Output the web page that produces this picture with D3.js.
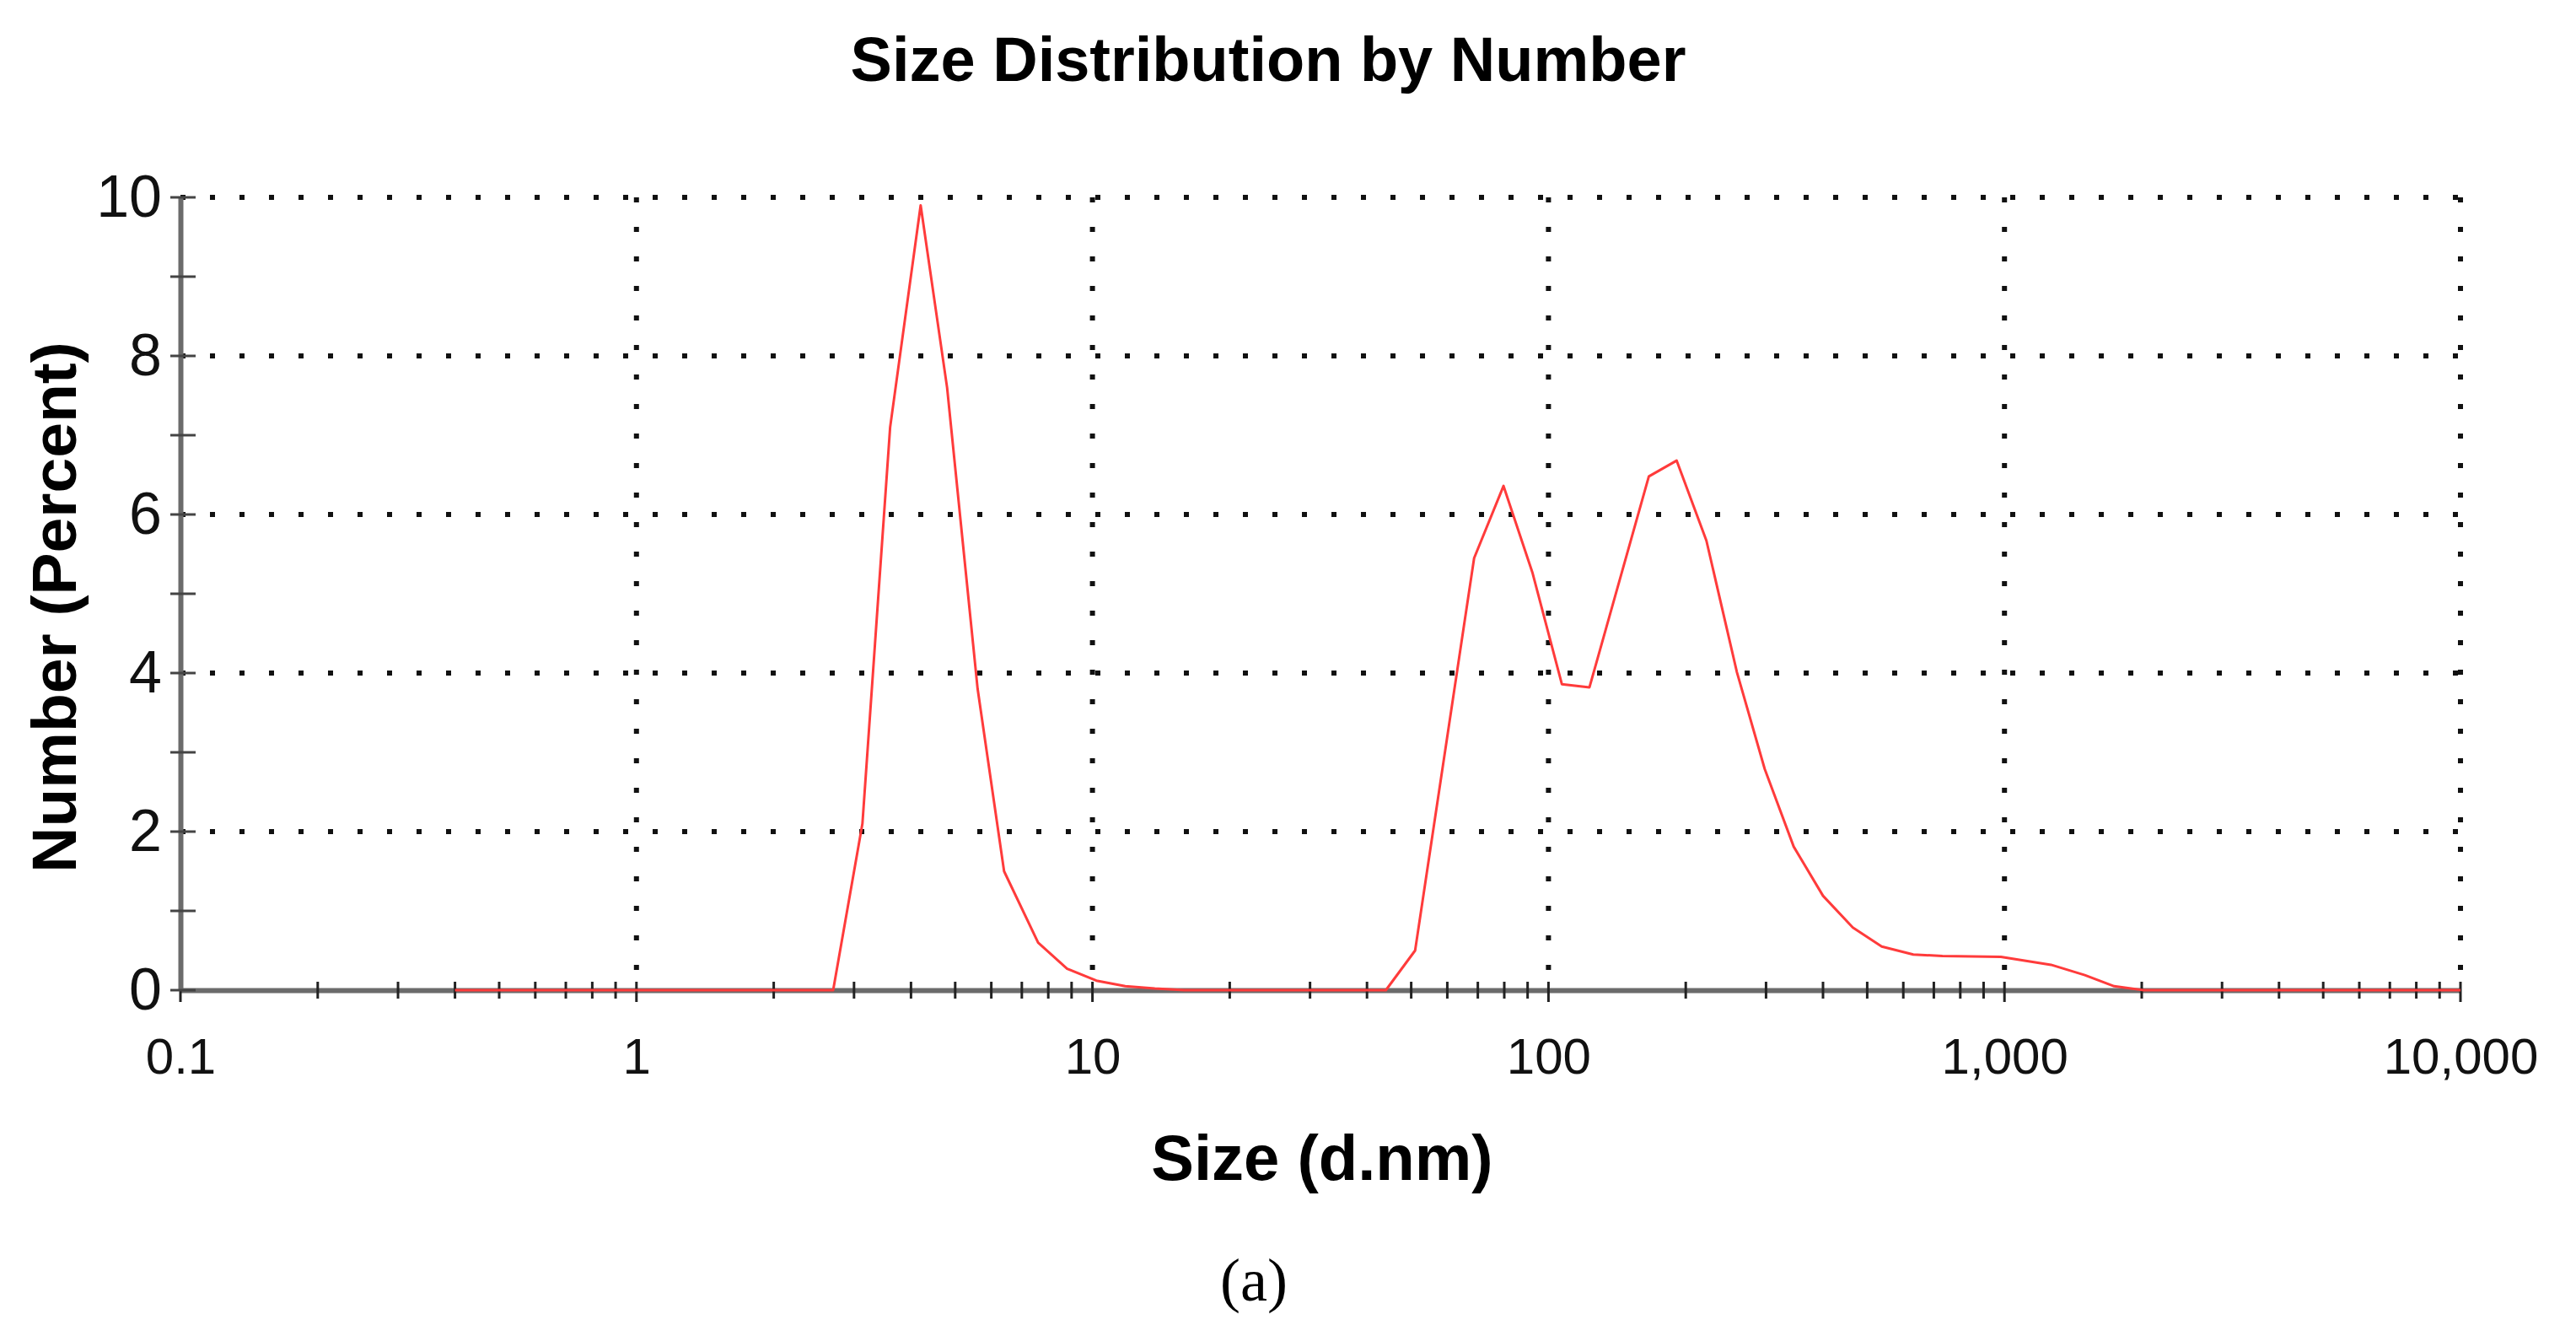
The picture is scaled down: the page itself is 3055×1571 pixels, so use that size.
<!DOCTYPE html>
<html>
<head>
<meta charset="utf-8">
<script src="https://cdn.jsdelivr.net/npm/d3@7"></script>
<style>
  body { margin: 0; background: #fff; }
  svg text { font-family: "Liberation Sans", Arial, sans-serif; }
</style>
</head>
<body>
<div id="chart"></div>
<script>
// Size (d.nm) and Number (%)
const sizes = [0.4, 0.6, 1, 1.5, 2.2, 2.7, 3.13, 3.6, 4.2, 4.8, 5.6, 6.4, 7.6, 8.8, 10.2, 11.8, 13.7, 15.9,
  20, 30, 44, 51, 68.7, 79.7, 92.3, 107, 123, 166, 191, 222, 259, 298, 345, 400, 465, 538, 631, 731, 982,
  1265, 1500, 1740, 2020, 3000, 5000, 10000];
const numbers = [0, 0, 0, 0, 0, 0, 2.1, 7.1, 9.9, 7.6, 3.8, 1.5, 0.6, 0.27, 0.12, 0.05, 0.02, 0,
  0, 0, 0, 0.5, 5.45, 6.36, 5.26, 3.86, 3.82, 6.48, 6.68, 5.67, 4.01, 2.79, 1.81, 1.19, 0.79, 0.55, 0.45, 0.43, 0.42,
  0.32, 0.19, 0.05, 0, 0, 0, 0];
const xMajorTicks = [0.1, 1, 10, 100, 1000, 10000];
const yMajorTicks = [0, 2, 4, 6, 8, 10];

const W = 3055, H = 1571;
const margin = { top: 234, right: 137, bottom: 397, left: 214 };
const width = W - margin.left - margin.right;
const height = H - margin.top - margin.bottom;

const svg = d3.select('#chart').append('svg')
  .attr('width', W).attr('height', H);
const g = svg.append('g').attr('transform', `translate(${margin.left},${margin.top})`);

const x = d3.scaleLog().domain([0.1, 10000]).range([0, width]);
const y = d3.scaleLinear().domain([0, 10]).range([height, 0]);

// Dotted grid
const dots = '6 29';
g.selectAll('.vgrid').data(xMajorTicks.slice(1)).enter().append('line')
  .attr('x1', d => x(d)).attr('x2', d => x(d)).attr('y1', 0).attr('y2', height)
  .attr('stroke', '#111').attr('stroke-width', 6).attr('stroke-dasharray', dots);
g.selectAll('.hgrid').data(yMajorTicks.slice(1)).enter().append('line')
  .attr('x1', 0).attr('x2', width).attr('y1', d => y(d)).attr('y2', d => y(d))
  .attr('stroke', '#111').attr('stroke-width', 6).attr('stroke-dasharray', dots);

// Axes
const fmt = d3.format(',');
const xMinor = [];
for (let p = -1; p < 4; p++) for (let k = 2; k <= 9; k++) xMinor.push(k * Math.pow(10, p));

const xAxis = g.append('g').attr('transform', `translate(0,${height})`)
  .call(d3.axisBottom(x).tickValues(xMajorTicks).tickFormat(fmt).tickSize(0).tickPadding(56));
xAxis.select('.domain').attr('stroke', '#6b6b6b').attr('stroke-width', 6);
xAxis.selectAll('text').attr('font-size', 60).attr('fill', '#111');
g.selectAll('.xtick').data(xMajorTicks.concat(xMinor)).enter().append('line')
  .attr('x1', d => x(d)).attr('x2', d => x(d))
  .attr('y1', height - 10)
  .attr('y2', d => height + (xMajorTicks.includes(d) ? 14 : 10))
  .attr('stroke', '#222').attr('stroke-width', 3);

const yAxis = g.append('g')
  .call(d3.axisLeft(y).tickValues(yMajorTicks).tickSize(0).tickPadding(22));
yAxis.select('.domain').attr('stroke', '#6b6b6b').attr('stroke-width', 6);
yAxis.selectAll('text').attr('font-size', 70).attr('fill', '#111');
g.selectAll('.ytick').data(d3.range(0, 11)).enter().append('line')
  .attr('x1', -12).attr('x2', 18).attr('y1', d => y(d)).attr('y2', d => y(d))
  .attr('stroke', '#444').attr('stroke-width', 3);

// Data line
const line = d3.line().x((d, i) => x(sizes[i])).y(d => y(d));
g.append('path').datum(numbers)
  .attr('d', line).attr('fill', 'none')
  .attr('stroke', '#ff3b3b').attr('stroke-width', 3).attr('stroke-linejoin', 'round');

// Titles
svg.append('text').attr('x', 1504).attr('y', 96).attr('text-anchor', 'middle')
  .attr('font-size', 74).attr('font-weight', 'bold').text('Size Distribution by Number');
svg.append('text').attr('x', 1568).attr('y', 1399).attr('text-anchor', 'middle')
  .attr('font-size', 76).attr('font-weight', 'bold').text('Size (d.nm)');
svg.append('text').attr('transform', 'translate(90,720) rotate(-90)').attr('text-anchor', 'middle')
  .attr('font-size', 75).attr('font-weight', 'bold').text('Number (Percent)');
svg.append('text').attr('x', 1487).attr('y', 1542).attr('text-anchor', 'middle')
  .attr('font-size', 72).style('font-family', '"Liberation Serif", serif').text('(a)');
</script>
</body>
</html>
